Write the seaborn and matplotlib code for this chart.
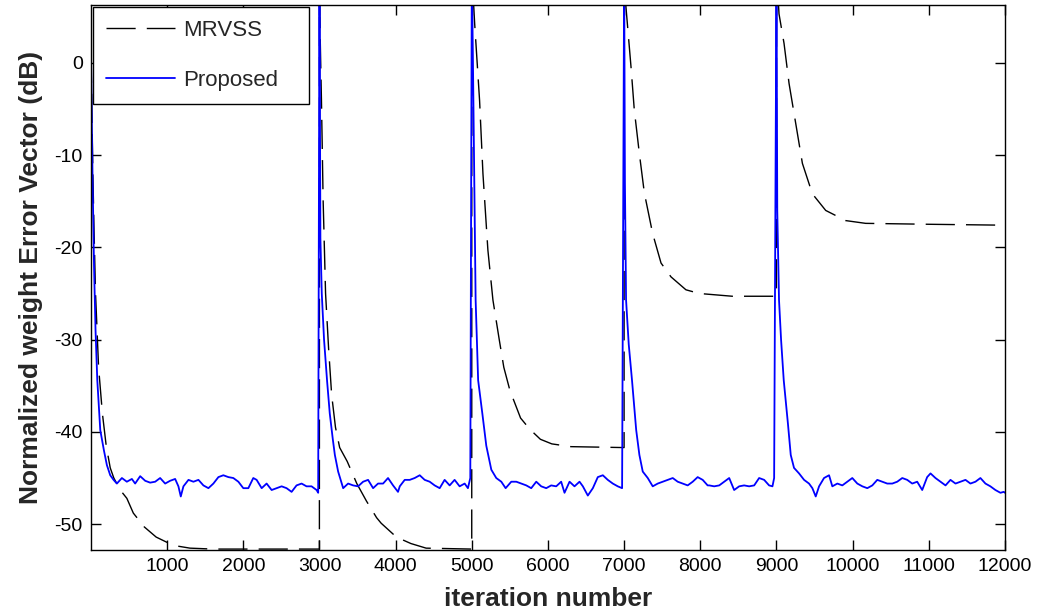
import matplotlib
matplotlib.use("Agg")
import matplotlib.pyplot as plt
import seaborn as sns
import pandas as pd

# ---------------- data ----------------
mrvss_iter = [0, 25, 40, 60, 100, 150, 200, 253, 300, 384, 471, 556, 700, 856, 1080, 1300, 1600, 2999,
              3000, 3004, 3026, 3048, 3080, 3120, 3160, 3210, 3265, 3364, 3490, 3617, 3750, 3810, 4010, 4200, 4400, 4999,
              5000, 5037, 5102, 5146, 5211, 5277, 5360, 5420, 5500, 5640, 5760, 5900, 6050, 6300, 6999,
              7000, 7024, 7090, 7133, 7199, 7265, 7374, 7484, 7615, 7811, 7986, 8420, 8999,
              9000, 9033, 9099, 9165, 9253, 9340, 9471, 9646, 9908, 10170, 11000, 12000]
mrvss_db = [1.0, -12.0, -18.0, -25.0, -33.0, -38.0, -41.5, -43.9, -45.0, -46.3, -47.2, -48.8, -50.3, -51.4, -52.3, -52.6, -52.7, -52.7,
            10.0, 5.0, -4.1, -14.9, -25.0, -31.0, -36.0, -39.5, -41.7, -43.2, -45.6, -47.5, -49.3, -49.9, -51.4, -52.1, -52.6, -52.7,
            10.0, 4.3, -4.1, -12.0, -20.3, -25.7, -30.0, -33.0, -35.5, -38.5, -39.7, -40.8, -41.3, -41.6, -41.7,
            10.0, 6.0, -0.45, -5.1, -9.8, -14.1, -18.5, -21.7, -23.2, -24.6, -25.0, -25.3, -25.3,
            10.0, 5.3, 2.1, -2.25, -6.6, -10.9, -14.2, -16.0, -17.1, -17.4, -17.5, -17.6]

prop_iter = [0, 20, 40, 60, 83, 122, 170, 209, 253, 297, 340, 406, 471, 537, 580, 646, 712, 777, 843, 908, 974,
             1039, 1105, 1148, 1179, 1214, 1280, 1345, 1411, 1476, 1542, 1607, 1673, 1738, 1804, 1869, 1935,
             2000, 2066, 2131, 2175, 2241, 2306, 2372, 2437, 2503, 2568, 2634, 2699, 2765, 2830, 2896, 2962, 2983,
             3000, 3012, 3030, 3060, 3100, 3135, 3175, 3202, 3245, 3311, 3376, 3442, 3507, 3573, 3638, 3704, 3769,
             3835, 3900, 3966, 4031, 4054, 4119, 4185, 4250, 4316, 4381, 4447, 4512, 4578, 4643, 4709, 4774, 4840,
             4906, 4949, 4980,
             5000, 5015, 5050, 5083, 5138, 5190, 5256, 5321, 5387, 5444, 5518, 5584, 5649, 5715, 5780, 5846, 5911,
             5977, 6042, 6108, 6173, 6217, 6283, 6348, 6414, 6458, 6523, 6589, 6654, 6720, 6785, 6851, 6916, 6973,
             7000, 7010, 7025, 7060, 7103, 7158, 7200, 7244, 7310, 7375, 7441, 7507, 7572, 7638, 7703, 7769, 7834,
             7900, 7965, 8031, 8096, 8117, 8182, 8248, 8313, 8379, 8444, 8510, 8575, 8641, 8707, 8772, 8838, 8903,
             8947, 8969,
             9000, 9010, 9033, 9060, 9095, 9150, 9187, 9230, 9296, 9362, 9427, 9471, 9515, 9559, 9624, 9690, 9733,
             9799, 9864, 9930, 9995, 10061, 10127, 10192, 10258, 10323, 10389, 10454, 10520, 10585, 10651, 10716,
             10782, 10847, 10913, 10978, 11022, 11087, 11153, 11219, 11284, 11350, 11415, 11481, 11546, 11612,
             11677, 11743, 11808, 11874, 11940, 11983, 12000]
prop_db = [1.0, -12.0, -22.0, -29.0, -34.4, -39.8, -42.0, -43.6, -44.7, -45.2, -45.6, -45.0, -45.4, -45.1, -45.6, -44.8, -45.3, -45.5, -45.4, -45.0, -45.6,
           -45.3, -45.1, -45.9, -47.0, -45.9, -45.2, -45.4, -45.2, -45.8, -46.1, -45.6, -44.9, -44.7, -44.9, -45.0, -45.4,
           -46.1, -46.1, -45.0, -45.2, -46.1, -45.6, -46.3, -46.1, -45.9, -46.1, -46.5, -45.8, -45.6, -45.9, -45.9, -46.3, -46.6,
           10.0, -19.0, -25.0, -30.0, -34.5, -38.0, -40.8, -42.5, -44.3, -46.1, -45.6, -45.8, -45.9, -45.4, -45.2, -46.1, -45.6,
           -45.6, -45.0, -45.8, -46.5, -45.9, -45.2, -45.2, -45.0, -44.7, -45.2, -45.4, -45.8, -46.1, -45.2, -45.8, -45.2, -45.9,
           -45.6, -46.1, -45.0,
           10.0, 0.0, -25.7, -34.4, -38.0, -41.5, -44.1, -45.0, -45.4, -46.1, -45.4, -45.4, -45.6, -45.8, -46.1, -45.4, -45.9,
           -46.1, -45.8, -45.9, -45.4, -46.6, -45.4, -45.9, -45.4, -45.9, -46.9, -46.1, -44.9, -44.7, -45.2, -45.6, -45.9, -46.1,
           10.0, -13.0, -25.7, -30.5, -34.4, -39.8, -42.5, -44.3, -45.0, -45.9, -45.6, -45.4, -45.2, -45.0, -45.4, -45.6, -45.8,
           -45.4, -44.9, -45.2, -45.8, -45.8, -45.9, -45.8, -45.4, -45.0, -46.3, -45.9, -45.8, -45.9, -45.8, -45.0, -45.2, -45.8,
           -45.9, -45.0,
           10.0, -16.0, -25.7, -30.0, -34.4, -39.1, -42.5, -43.9, -44.5, -45.2, -45.6, -46.1, -47.0, -45.9, -45.0, -44.7, -45.9,
           -45.6, -45.8, -45.4, -45.0, -45.6, -45.9, -46.1, -45.8, -45.2, -45.4, -45.6, -45.6, -45.4, -45.0, -45.2,
           -45.6, -45.4, -46.3, -44.9, -44.5, -45.0, -45.4, -45.8, -45.2, -45.6, -45.4, -45.2, -45.6, -45.4,
           -45.0, -45.6, -45.9, -46.3, -46.6, -46.5, -46.6]

x_ticks = [1000, 2000, 3000, 4000, 5000, 6000, 7000, 8000, 9000, 10000, 11000, 12000]
y_ticks = [-50, -40, -30, -20, -10, 0]
series_names = ["MRVSS", "Proposed"]

# ---------------- style ----------------
sns.set_style("ticks")
plt.rcParams["font.family"] = ["Liberation Sans", "DejaVu Sans"]
plt.rcParams["lines.scale_dashes"] = False

fig = plt.figure(figsize=(10.42, 6.15), dpi=100)
ax = fig.add_axes([0.0873, 0.1057, 0.8772, 0.8867])

df_m = pd.DataFrame({"iter": mrvss_iter, "db": mrvss_db})
df_p = pd.DataFrame({"iter": prop_iter, "db": prop_db})

sns.lineplot(data=df_m, x="iter", y="db", ax=ax, estimator=None, sort=False,
             color="black", linewidth=1.0, dashes=False, label=series_names[0])
ax.lines[-1].set_dashes((21, 8))
sns.lineplot(data=df_p, x="iter", y="db", ax=ax, estimator=None, sort=False,
             color="#0000ff", linewidth=1.3, label=series_names[1])

ax.set_xlim(0, 12000)
ax.set_ylim(-52.8, 6.3)
ax.set_xticks(x_ticks)
ax.set_xticklabels([str(v) for v in x_ticks])
ax.set_yticks(y_ticks)
ax.set_yticklabels([str(v) for v in y_ticks])

ax.tick_params(axis="both", direction="in", length=7.5, width=1.0, labelsize=14,
               top=True, right=True, color="black", labelcolor="black")
ax.tick_params(axis="x", pad=5.5)
ax.tick_params(axis="y", pad=6)
for s in ax.spines.values():
    s.set_color("black")
    s.set_linewidth(1.0)
    s.set_visible(True)

ax.set_xlabel("iteration number", fontsize=19, fontweight="bold", labelpad=9)
ax.set_ylabel("Normalized weight Error Vector (dB)", fontsize=19, fontweight="bold", labelpad=8)

leg = ax.legend(loc="upper left", bbox_to_anchor=(0.002, 0.6, 0.2365, 0.3963), mode="expand",
                borderaxespad=0.0, fontsize=16, frameon=True, fancybox=False,
                handlelength=3.1, handletextpad=0.35, labelspacing=1.3, borderpad=0.6)
fr = leg.get_frame()
fr.set_edgecolor("black")
fr.set_linewidth(1.0)
fr.set_facecolor("white")
fr.set_alpha(1.0)
leg.get_lines()[0].set_dashes((21, 8))

fig.savefig("out.png", dpi=100)
